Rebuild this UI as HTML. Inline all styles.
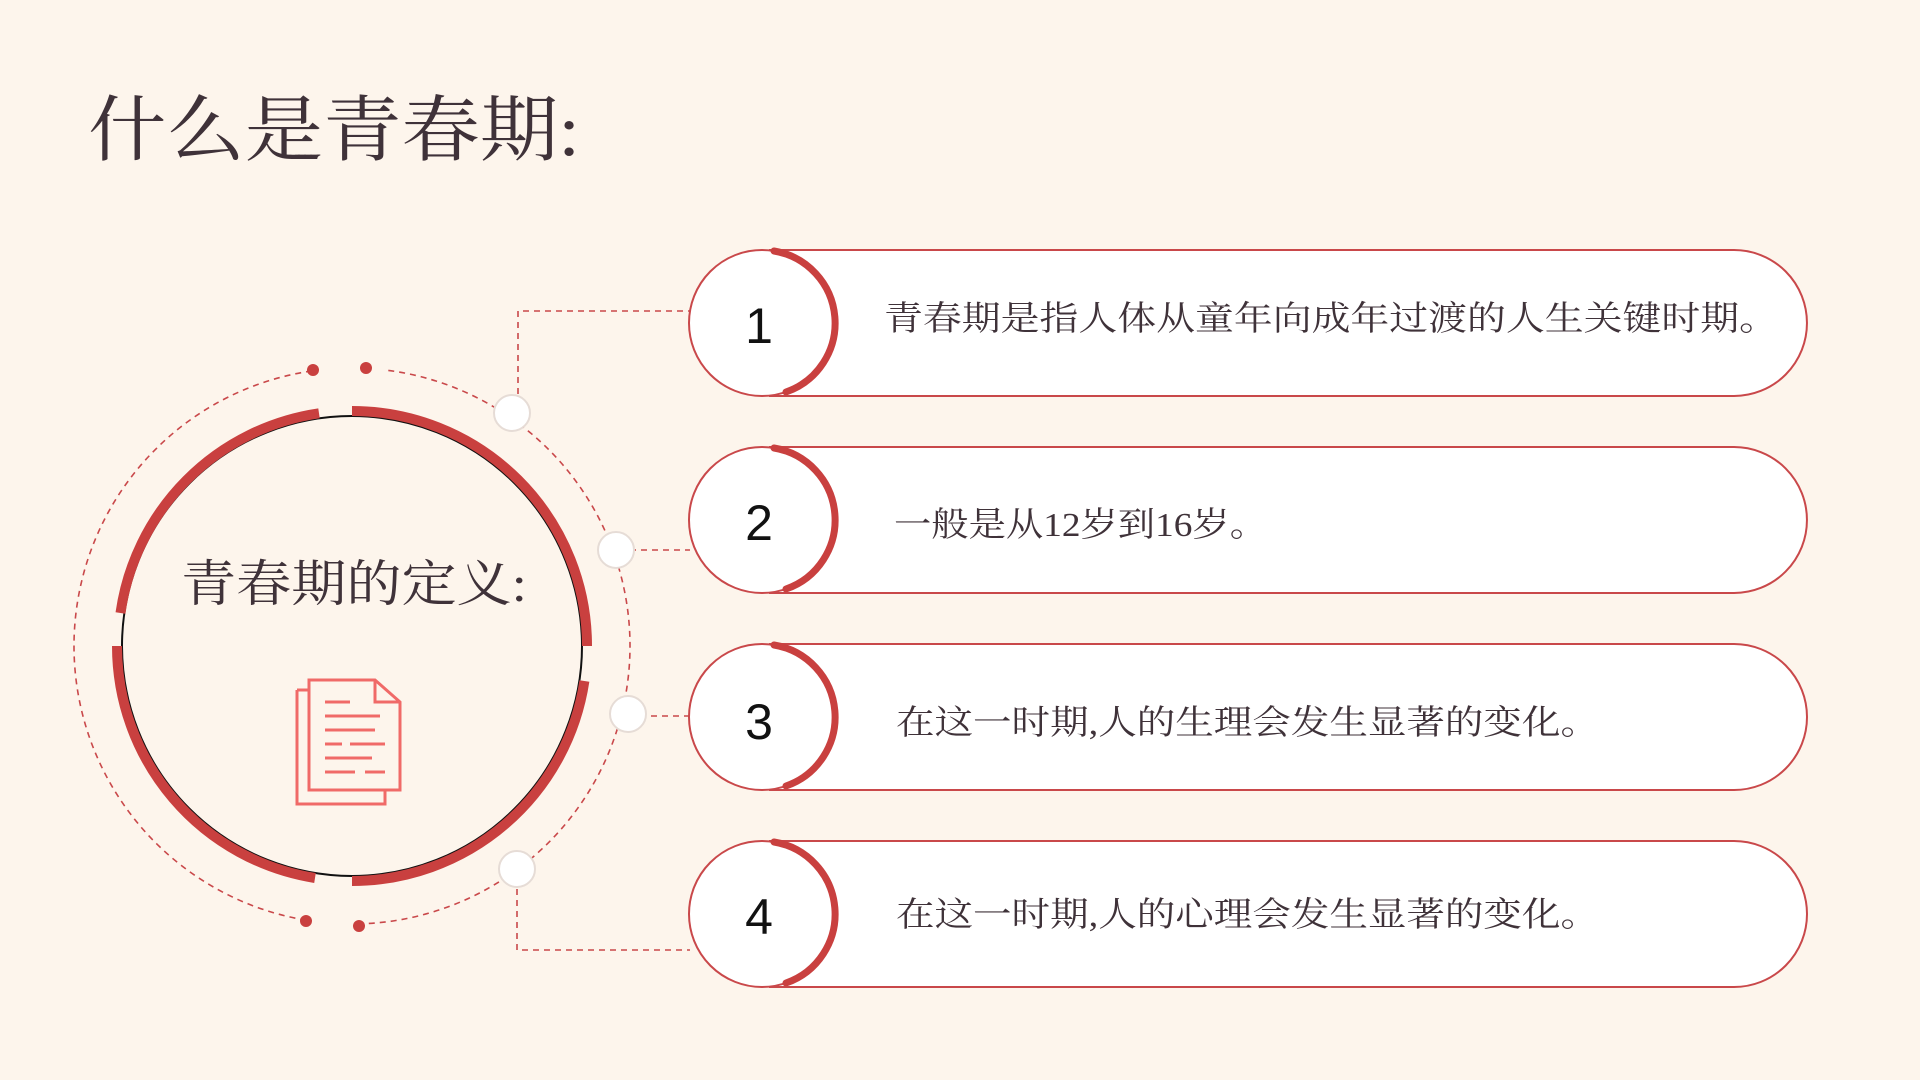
<!DOCTYPE html>
<html><head><meta charset="utf-8"><style>
html,body{margin:0;padding:0;background:#fdf5ec;}
svg{display:block}
text{font-family:"Liberation Serif","Noto Serif CJK SC",serif;fill:#3f3239;}
.n{font-family:"Liberation Sans","Noto Sans CJK SC",sans-serif;fill:#111;font-size:50px;}
</style></head><body>
<svg width="1920" height="1080" viewBox="0 0 1920 1080" xmlns="http://www.w3.org/2000/svg">
<rect width="1920" height="1080" fill="#fdf5ec"/>
<text x="88" y="155" font-size="72" textLength="492" lengthAdjust="spacingAndGlyphs">什么是青春期:</text>

<!-- connectors -->
<g fill="none" stroke="#c9484a" stroke-width="1.6" stroke-dasharray="6,5">
<path d="M518 405 V311 H690"/>
<path d="M630 550 H690"/>
<path d="M640 716 H690"/>
<path d="M517 878 V950 H690"/>
<path d="M388.3 370.4 A278 278 0 0 1 630 646 A278 278 0 0 1 358.8 923.9"/>
<path d="M306.1 920.2 A278 278 0 0 1 74 646 A278 278 0 0 1 313.3 370.7"/>
</g>
<g fill="#c9403f">
<circle cx="313" cy="370" r="6"/><circle cx="366" cy="368" r="6"/>
<circle cx="306" cy="921" r="6"/><circle cx="359" cy="926" r="6"/>
</g>
<g fill="#fff" stroke="#e6dcd6" stroke-width="2">
<circle cx="512" cy="413" r="18"/><circle cx="616" cy="550" r="18"/>
<circle cx="628" cy="714" r="18"/><circle cx="517" cy="869" r="18"/>
</g>

<!-- main circle -->
<circle cx="352" cy="646" r="230" fill="none" stroke="#111" stroke-width="2"/>
<g fill="none" stroke="#c9403f" stroke-width="10">
<path d="M352 411 A235 235 0 0 1 587 646"/>
<path d="M584.4 681 A235 235 0 0 1 352 881"/>
<path d="M315 878 A235 235 0 0 1 117 646"/>
<path d="M120.5 613 A235 235 0 0 1 319 413.3"/>
</g>
<text x="181" y="601" font-size="50" textLength="346" lengthAdjust="spacingAndGlyphs">青春期的定义:</text>
<!-- doc icon -->
<g fill="none" stroke="#f06a68" stroke-width="3">
<path d="M297 690 H309"/>
<path d="M297 690 V804 H385 V790"/>
<path d="M309 680 H375 L400 702 V790 H309 Z"/>
<path d="M375 680 V702 H400"/>
<path d="M325 702 H350 M325 716 H380 M325 730 H375 M325 744 H342 M350 744 H385 M325 758 H372 M325 772 H355 M365 772 H385"/>
</g>

<!-- pills -->
<g fill="#fff" stroke="#c9484a" stroke-width="2">
<path d="M770 250 H1734 A73 73 0 0 1 1734 396 H770 Z"/>
<circle cx="762" cy="323" r="73"/>
<path d="M770 447 H1734 A73 73 0 0 1 1734 593 H770 Z"/>
<circle cx="762" cy="520" r="73"/>
<path d="M770 644 H1734 A73 73 0 0 1 1734 790 H770 Z"/>
<circle cx="762" cy="717" r="73"/>
<path d="M770 841 H1734 A73 73 0 0 1 1734 987 H770 Z"/>
<circle cx="762" cy="914" r="73"/>
</g>
<g fill="none" stroke="#c9403f" stroke-width="7" stroke-linecap="round">
<path d="M774 251 A73 73 0 0 1 786 392"/>
<path d="M774 448 A73 73 0 0 1 786 589"/>
<path d="M774 645 A73 73 0 0 1 786 786"/>
<path d="M774 842 A73 73 0 0 1 786 983"/>
</g>
<text class="n" x="759" y="343" text-anchor="middle">1</text>
<text class="n" x="759" y="540" text-anchor="middle">2</text>
<text class="n" x="759" y="739" text-anchor="middle">3</text>
<text class="n" x="759" y="934" text-anchor="middle">4</text>

<text x="884" y="330" font-size="34" textLength="894" lengthAdjust="spacingAndGlyphs">青春期是指人体从童年向成年过渡的人生关键时期。</text>
<text x="894" y="536" font-size="34" textLength="373" lengthAdjust="spacingAndGlyphs">一般是从12岁到16岁。</text>
<text x="896" y="734" font-size="34" textLength="703" lengthAdjust="spacingAndGlyphs">在这一时期,人的生理会发生显著的变化。</text>
<text x="896" y="926" font-size="34" textLength="703" lengthAdjust="spacingAndGlyphs">在这一时期,人的心理会发生显著的变化。</text>
</svg>
</body></html>
